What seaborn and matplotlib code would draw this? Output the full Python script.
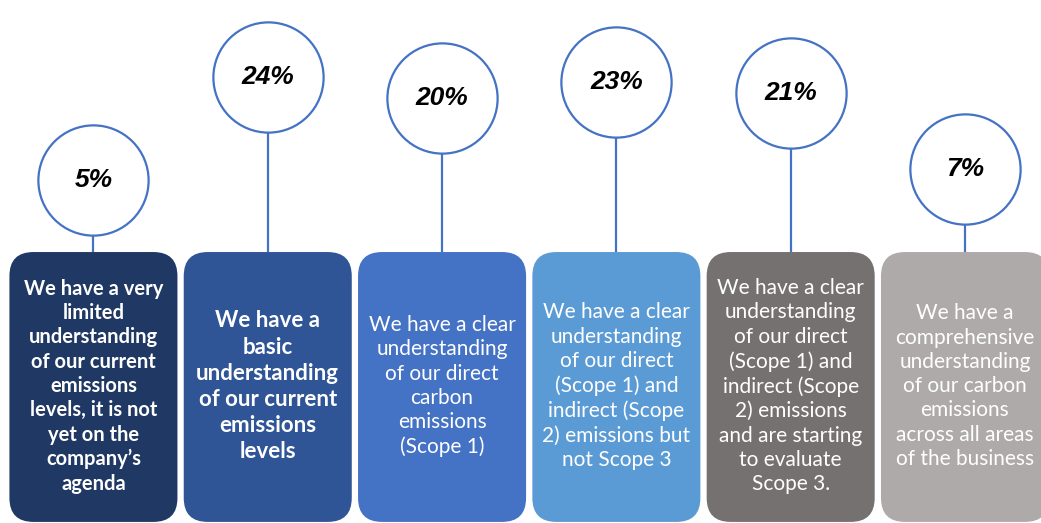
import matplotlib
matplotlib.use("Agg")
import matplotlib.pyplot as plt
import seaborn as sns
import pandas as pd
from matplotlib.patches import FancyBboxPatch

# ---- data ----
categories = [
    "We have a very\nlimited\nunderstanding\nof our current\nemissions\nlevels, it is not\nyet on the\ncompany\u2019s\nagenda",
    "We have a\nbasic\nunderstanding\nof our current\nemissions\nlevels",
    "We have a clear\nunderstanding\nof our direct\ncarbon\nemissions\n(Scope 1)",
    "We have a clear\nunderstanding\nof our direct\n(Scope 1) and\nindirect (Scope\n2) emissions but\nnot Scope 3",
    "We have a clear\nunderstanding\nof our direct\n(Scope 1) and\nindirect (Scope\n2) emissions\nand are starting\nto evaluate\nScope 3.",
    "We have a\ncomprehensive\nunderstanding\nof our carbon\nemissions\nacross all areas\nof the business",
]
values = [5, 24, 20, 23, 21, 7]
value_labels = ["5%", "24%", "20%", "23%", "21%", "7%"]

# ---- style ----
box_colors = ["#203864", "#2F5597", "#4472C4", "#5B9BD5", "#767171", "#AEAAAA"]
box_weights = ["bold", "bold", "normal", "normal", "normal", "normal"]
box_fsizes = [14.5, 16.0, 15.0, 15.0, 15.0, 15.0]
box_lsp = [1.27, 1.3, 1.27, 1.27, 1.27, 1.27]
accent = "#4472C4"

sns.set_theme(style="white")
plt.rcParams["font.family"] = ["Lato", "DejaVu Sans"]

df = pd.DataFrame({"pos": range(len(values)), "value": values, "label": value_labels})

fig = plt.figure(figsize=(10.41, 5.23), dpi=100)
ax = fig.add_axes([0, 0, 1, 1])
ax.set_xlim(-0.536, 5.436)
ax.set_ylim(-58.5, 38.2)
ax.axis("off")

box_top = -8.4
box_bottom = -58.3
box_w = 0.964
text_y = -33.2

# pixel scale factors for rounding correction
x_px = 174.3   # px per x unit
y_px = 5.41    # px per y unit
r_px = 24
r_x = r_px / x_px
r_y = r_px / y_px
aspect = r_y / r_x

# stems
ax.vlines(df["pos"], box_top, df["value"], color=accent, linewidth=1.6, zorder=1)

# boxes
for i, (txt, col, wt, fs, ls) in enumerate(zip(categories, box_colors, box_weights, box_fsizes, box_lsp)):
    patch = FancyBboxPatch(
        (i - box_w / 2 + r_x, box_bottom + r_y),
        box_w - 2 * r_x, (box_top - box_bottom) - 2 * r_y,
        boxstyle=f"round,pad={r_x},rounding_size={r_x}",
        mutation_aspect=aspect,
        facecolor=col, edgecolor="none", zorder=2,
    )
    ax.add_patch(patch)
    ax.text(i, text_y, txt, ha="center", va="center", color="white",
            fontsize=fs, fontweight=wt, linespacing=ls, zorder=3)

# circles
sns.scatterplot(data=df, x="pos", y="value", s=6300, color="white",
                edgecolor=accent, linewidth=1.6, zorder=4, legend=False, ax=ax)
ax.set_xlabel("")
ax.set_ylabel("")

for _, row in df.iterrows():
    ax.text(row["pos"], row["value"], row["label"], ha="center", va="center",
            fontsize=19, fontweight="bold", fontstyle="italic",
            family=["Liberation Sans", "DejaVu Sans"], color="black", zorder=5)

fig.savefig("out.png", dpi=100, facecolor="white")
